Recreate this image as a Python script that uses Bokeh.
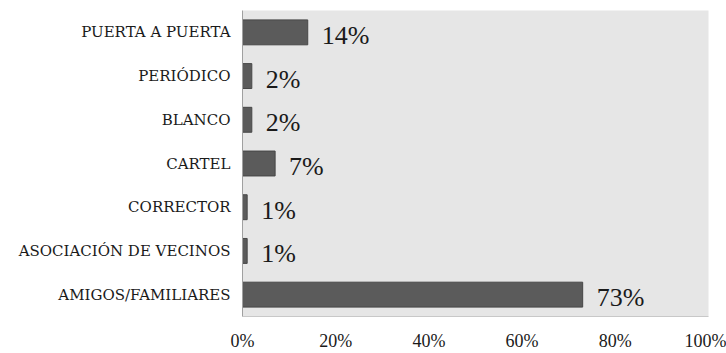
from bokeh.plotting import figure
from bokeh.models import FactorRange, Range1d, ColumnDataSource, FixedTicker, CustomJSTickFormatter
from bokeh.core.properties import value
from bokeh.embed import file_html
from bokeh.resources import INLINE

categories = ["PUERTA A PUERTA", "PERIÓDICO", "BLANCO", "CARTEL", "CORRECTOR",
              "ASOCIACIÓN DE VECINOS", "AMIGOS/FAMILIARES"]
percent = [14, 2, 2, 7, 1, 1, 73]
labels = ["14%", "2%", "2%", "7%", "1%", "1%", "73%"]
x_ticks = [0, 20, 40, 60, 80, 100]

factors = list(reversed(categories))
src = ColumnDataSource(dict(cat=categories, val=percent, lab=labels))

p = figure(width=726, height=353, y_range=FactorRange(factors=factors, range_padding=0),
           x_range=Range1d(0, 100), output_backend="svg", toolbar_location=None,
           min_border_left=242, min_border_right=18, min_border_top=10, min_border_bottom=34)

p.background_fill_color = "#e6e6e6"
p.border_fill_color = "white"
p.outline_line_color = None
p.xgrid.visible = False
p.ygrid.visible = False

p.hbar(y="cat", right="val", left=0, height=0.57, source=src,
       fill_color="#5b5b5b", line_color="#474747", line_width=1)

p.text(x="val", y="cat", text="lab", source=src, x_offset=14, y_offset=3,
       text_baseline="middle", text_align="left", text_font=value("Liberation Serif"),
       text_font_size="26px", text_color="#1a1a1a")

p.xaxis.ticker = FixedTicker(ticks=x_ticks)
p.xaxis.formatter = CustomJSTickFormatter(code="return tick + '%';")
p.xaxis.major_tick_line_color = None
p.xaxis.minor_tick_line_color = None
p.xaxis.axis_line_color = "#c8c8c8"
p.xaxis.major_label_text_font = "Liberation Serif"
p.xaxis.major_label_text_font_size = "18px"
p.xaxis.major_label_text_color = "#1a1a1a"
p.xaxis.major_label_standoff = 8

p.yaxis.major_tick_line_color = None
p.yaxis.minor_tick_line_color = None
p.yaxis.axis_line_color = "#a0a0a0"
p.yaxis.major_label_text_font = "DejaVu Serif"
p.yaxis.major_label_text_font_size = "15px"
p.yaxis.major_label_text_color = "#1a1a1a"
p.yaxis.major_label_standoff = 6

open("out.html", "w").write(file_html(p, INLINE))
